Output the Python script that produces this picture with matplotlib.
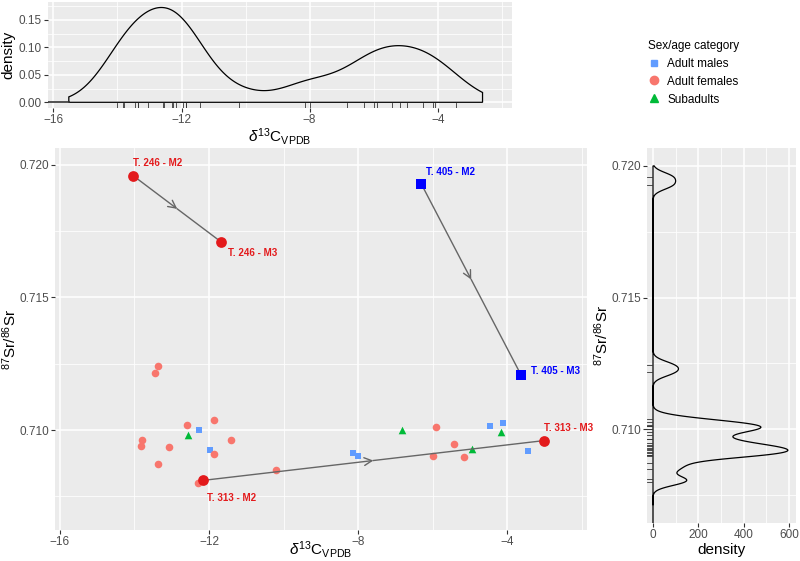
import numpy as np
import matplotlib.pyplot as plt
from matplotlib.ticker import MultipleLocator, FormatStrFormatter

plt.rcParams['font.family'] = ['Liberation Sans', 'DejaVu Sans']
plt.rcParams['mathtext.fontset'] = 'custom'
plt.rcParams['mathtext.rm'] = 'Liberation Sans'
plt.rcParams['mathtext.it'] = 'Liberation Sans:italic'

# ---- data ----
male_c = [-12.26, -11.96, -8.14, -8.00, -4.46, -4.10, -3.43]
male_sr = [0.71001, 0.70925, 0.70914, 0.70902, 0.71014, 0.71028, 0.70922]

female_c = [-13.37, -13.45, -12.59, -11.86, -13.79, -13.83, -13.06, -11.42,
            -11.86, -13.36, -12.29, -10.19, -5.91, -5.42, -5.98, -5.17]
female_sr = [0.71243, 0.71216, 0.71018, 0.71039, 0.70962, 0.70941, 0.70935, 0.70963,
             0.70908, 0.70871, 0.70800, 0.70848, 0.71012, 0.70946, 0.70902, 0.70898]

sub_c = [-12.56, -6.83, -4.16, -4.95]
sub_sr = [0.70980, 0.71000, 0.70991, 0.70928]

# teeth sampled twice (M2 -> M3)
tooth = ["T. 246", "T. 313", "T. 405"]
m2_c = [-14.03, -12.16, -6.30]
m2_sr = [0.71959, 0.70810, 0.71927]
m3_c = [-11.67, -3.02, -3.63]
m3_sr = [0.71709, 0.70960, 0.71208]

# ---- styling ----
col_m = "#619CFF"
col_f = "#F8766D"
col_s = "#00BA38"
tooth_col = ["#E31A1C", "#E31A1C", "#0000FF"]
tooth_mark = ["o", "o", "s"]
tooth_size = [60, 60, 45]
# label offsets (points) for M2 and M3 labels
off_m2 = [(0, 9), (3, -13), (3, 9)]
off_m3 = [(5, -8), (0, 9), (7, 3)]
bg = "#EBEBEB"
tick_c = "#4D4D4D"

sr_lab = r'$^{87}$Sr/$^{86}$Sr'
c_lab = r'$\delta^{13}$C$_{\mathrm{VPDB}}$'


def gg_axes(ax):
    ax.set_facecolor(bg)
    for s in ax.spines.values():
        s.set_visible(False)
    ax.grid(which='major', color='white', linewidth=1.1)
    ax.grid(which='minor', color='white', linewidth=0.55)
    ax.set_axisbelow(True)
    ax.tick_params(which='major', length=3, width=0.8, color='#333333',
                   labelcolor=tick_c, labelsize=8.5, pad=1.5)
    ax.tick_params(which='minor', length=0)


def kde(data, grid, adjust):
    d = np.asarray(data)
    sd = d.std(ddof=1)
    iqr = np.subtract(*np.percentile(d, [75, 25]))
    bw = 0.9 * min(sd, iqr / 1.34) * len(d) ** -0.2 * adjust
    z = (grid[:, None] - d[None, :]) / bw
    return np.exp(-0.5 * z ** 2).sum(1) / (len(d) * bw * np.sqrt(2 * np.pi))


dens_c = male_c + female_c + sub_c + m2_c
dens_sr = male_sr + female_sr + sub_sr + m2_sr

fig = plt.figure(figsize=(8, 5.61), dpi=100)

# ---- main scatter ----
ax = fig.add_axes([0.06875, 0.0553, 0.665, 0.681])
gg_axes(ax)
ax.scatter(male_c, male_sr, marker='s', s=20, color=col_m, linewidths=0, zorder=3)
ax.scatter(female_c, female_sr, marker='o', s=30, color=col_f, linewidths=0, zorder=3)
ax.scatter(sub_c, sub_sr, marker='^', s=30, color=col_s, linewidths=0, zorder=3)
for i in range(len(tooth)):
    mid = ((m2_c[i] + m3_c[i]) / 2, (m2_sr[i] + m3_sr[i]) / 2)
    ax.annotate('', xy=mid, xytext=(m2_c[i], m2_sr[i]),
                arrowprops=dict(arrowstyle='->,head_length=0.55,head_width=0.28',
                                color='#666666', lw=1.0, shrinkA=0, shrinkB=0), zorder=4)
    ax.plot([mid[0], m3_c[i]], [mid[1], m3_sr[i]], color='#666666', lw=1.0, zorder=4)
    ax.scatter([m2_c[i], m3_c[i]], [m2_sr[i], m3_sr[i]], marker=tooth_mark[i],
               s=tooth_size[i], color=tooth_col[i], linewidths=0, zorder=5)
    ax.annotate(tooth[i] + " - M2", (m2_c[i], m2_sr[i]), xytext=off_m2[i],
                textcoords='offset points', color=tooth_col[i], fontsize=7,
                fontweight='bold', va='center', ha='left')
    ax.annotate(tooth[i] + " - M3", (m3_c[i], m3_sr[i]), xytext=off_m3[i],
                textcoords='offset points', color=tooth_col[i], fontsize=7,
                fontweight='bold', va='center', ha='left')
ax.set_xlim(-16.13, -1.86)
ax.set_ylim(0.70623, 0.72064)
ax.xaxis.set_major_locator(MultipleLocator(4))
ax.xaxis.set_minor_locator(MultipleLocator(2))
ax.yaxis.set_major_locator(MultipleLocator(0.005))
ax.yaxis.set_minor_locator(MultipleLocator(0.0025))
ax.yaxis.set_major_formatter(FormatStrFormatter('%.3f'))
ax.set_xlabel(c_lab, fontsize=11, va='center')
ax.xaxis.set_label_coords(0.5, -0.051)
ax.set_ylabel(sr_lab, fontsize=11, labelpad=0)

# ---- top density (d13C) ----
axt = fig.add_axes([0.06, 0.8075, 0.58, 0.189])
gg_axes(axt)
gx = np.linspace(-15.52, -2.6, 400)
dx = kde(dens_c, gx, 0.5)
axt.fill(np.r_[gx[0], gx, gx[-1]], np.r_[0, dx, 0], facecolor='none',
         edgecolor='black', lw=0.9, zorder=3)
axt.plot([-16.17, gx[0]], [0, 0], color='#333333', lw=1.2, zorder=3)
rug_t = axt.get_xaxis_transform()
for v in dens_c:
    axt.plot([v, v], [0, 0.05], transform=rug_t, color='#333333', lw=0.6, zorder=3)
axt.set_xlim(-16.17, -1.68)
axt.set_ylim(-0.0104, 0.1828)
axt.xaxis.set_major_locator(MultipleLocator(4))
axt.xaxis.set_minor_locator(MultipleLocator(2))
axt.yaxis.set_major_locator(MultipleLocator(0.05))
axt.yaxis.set_minor_locator(MultipleLocator(0.025))
axt.yaxis.set_major_formatter(FormatStrFormatter('%.2f'))
axt.set_xlabel(c_lab, fontsize=11, labelpad=0)
axt.set_ylabel('density', fontsize=11, labelpad=2)

# ---- right density (Sr) ----
axr = fig.add_axes([0.80875, 0.0677, 0.18625, 0.6685])
gg_axes(axr)
gy = np.linspace(0.7071, 0.7200, 600)
dy = kde(dens_sr, gy, 0.5)
axr.fill(np.r_[0, dy, 0], np.r_[gy[0], gy, gy[-1]], facecolor='none',
         edgecolor='black', lw=0.9, zorder=3)
axr.plot([0, 0], [0.70644, gy[0]], color='#333333', lw=1.2, zorder=3)
rug_r = axr.get_yaxis_transform()
for v in dens_sr:
    axr.plot([0, 0.033], [v, v], transform=rug_r, color='#333333', lw=0.6, zorder=3)
axr.set_xlim(-26.5, 631)
axr.set_ylim(0.70644, 0.72068)
axr.xaxis.set_major_locator(MultipleLocator(200))
axr.xaxis.set_minor_locator(MultipleLocator(100))
axr.yaxis.set_major_locator(MultipleLocator(0.005))
axr.yaxis.set_minor_locator(MultipleLocator(0.0025))
axr.yaxis.set_major_formatter(FormatStrFormatter('%.3f'))
axr.set_xlabel('density', fontsize=11, labelpad=1)
axr.set_ylabel(sr_lab, fontsize=11, labelpad=0)

# ---- legend ----
h = [plt.Line2D([], [], marker='s', ls='', color=col_m, markersize=5),
     plt.Line2D([], [], marker='o', ls='', color=col_f, markersize=6),
     plt.Line2D([], [], marker='^', ls='', color=col_s, markersize=6)]
leg = fig.legend(h, ['Adult males', 'Adult females', 'Subadults'],
                 title='Sex/age category', loc='upper left',
                 bbox_to_anchor=(0.797, 0.948), frameon=False, fontsize=8.5,
                 title_fontsize=8.5, handlelength=1.0, handletextpad=0.6,
                 labelspacing=0.5, alignment='left')

fig.savefig('out.png', dpi=100)
